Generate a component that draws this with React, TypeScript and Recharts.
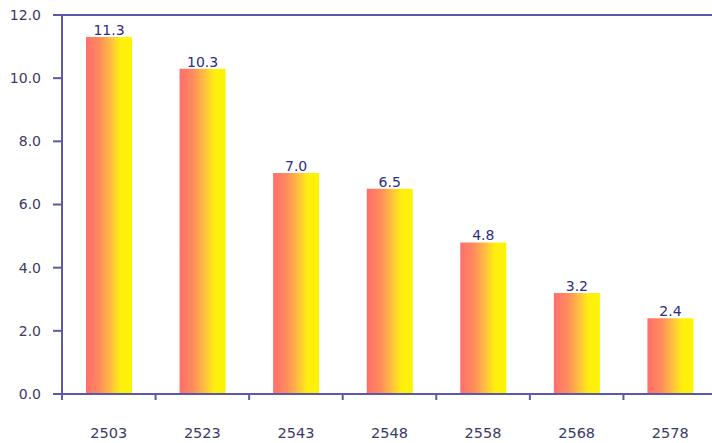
import React from "react";
import { BarChart, Bar, XAxis, YAxis, LabelList, ReferenceLine } from "recharts";

const categories = ["2503", "2523", "2543", "2548", "2558", "2568", "2578"];
const values = [11.3, 10.3, 7.0, 6.5, 4.8, 3.2, 2.4];
const yTicks = [0, 2, 4, 6, 8, 10, 12];

const data = categories.map((name, i) => ({ name, value: values[i] }));

const W = 712;
const H = 443;
const AXIS = "#5a5aa6";
const FONT = "'DejaVu Sans', Verdana, sans-serif";
const LEFT = 62;
const RIGHT = -5;
const BAND = (W - LEFT - RIGHT) / categories.length;

const XTick = (props: any) => {
  const { x, y, payload } = props;
  return (
    <g>
      <line x1={x - BAND / 2} x2={x - BAND / 2} y1={y} y2={y + 6} stroke={AXIS} strokeWidth={2} />
      <text
        x={x}
        y={y + 44}
        textAnchor="middle"
        fill="#3a3a68"
        fontSize={14.5}
        fontFamily={FONT}
      >
        {payload.value}
      </text>
    </g>
  );
};

export default function App() {
  return (
    <div style={{ position: "absolute", left: 0, top: 0, width: W, height: H, background: "#fff" }}>
      <BarChart
        width={W}
        height={H}
        data={data}
        margin={{ top: 15, right: RIGHT, bottom: 0, left: 0 }}
      >
        <defs>
          <linearGradient id="barGrad" x1="0" y1="0" x2="1" y2="0">
            <stop offset="0%" stopColor="#ff6e6e" />
            <stop offset="30%" stopColor="#ff8c5c" />
            <stop offset="55%" stopColor="#ffc040" />
            <stop offset="75%" stopColor="#ffee10" />
            <stop offset="100%" stopColor="#fcf400" />
          </linearGradient>
        </defs>
        <XAxis
          dataKey="name"
          height={49}
          stroke={AXIS}
          strokeWidth={2}
          tickLine={false}
          tickSize={0}
          tickMargin={0}
          tick={<XTick />}
          interval={0}
        />
        <YAxis
          width={LEFT}
          domain={[0, 12]}
          ticks={yTicks}
          interval={0}
          tickFormatter={(v: number) => v.toFixed(1)}
          stroke={AXIS}
          strokeWidth={2}
          tickSize={9}
          tickMargin={12}
          tick={{ fill: "#3a3a68", fontSize: 14, fontFamily: FONT }}
        />
        <ReferenceLine y={12} stroke={AXIS} strokeWidth={2} />
        <Bar dataKey="value" fill="url(#barGrad)" barSize={46} isAnimationActive={false}>
          <LabelList
            dataKey="value"
            position="top"
            offset={2}
            formatter={(v: number) => v.toFixed(1)}
            fill="#2b2b8a"
            fontSize={14}
            fontFamily={FONT}
          />
        </Bar>
      </BarChart>
    </div>
  );
}
